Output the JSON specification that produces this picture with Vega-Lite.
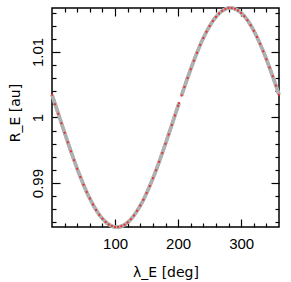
{
  "$schema": "https://vega.github.io/schema/vega-lite/v6.json",
  "autosize": {"type": "none"},
  "padding": {"left": 52, "top": 8, "right": 12, "bottom": 55},
  "width": 227,
  "height": 219,
  "background": "white",
  "config": {
    "view": {"stroke": "black", "strokeWidth": 1.5},
    "axis": {"domain": false, "grid": false, "ticks": true, "tickColor": "black", "tickWidth": 1.2, "labelFlush": false, "labelOverlap": false}
  },
  "data": {"values": [
    {"l":0,"r":1.003475,"s":1},{"l":5,"r":1.002033,"s":1},{"l":10,"r":1.000578,"s":1},{"l":15,"r":0.999120,"s":1},
    {"l":20,"r":0.997671,"s":1},{"l":25,"r":0.996242,"s":1},{"l":30,"r":0.994842,"s":1},{"l":35,"r":0.993486,"s":1},
    {"l":40,"r":0.992178,"s":1},{"l":45,"r":0.990930,"s":1},{"l":50,"r":0.989750,"s":1},{"l":55,"r":0.988650,"s":1},
    {"l":60,"r":0.987634,"s":1},{"l":65,"r":0.986715,"s":1},{"l":70,"r":0.985893,"s":1},{"l":75,"r":0.985177,"s":1},
    {"l":80,"r":0.984569,"s":1},{"l":85,"r":0.984075,"s":1},{"l":90,"r":0.983700,"s":1},{"l":95,"r":0.983445,"s":1},
    {"l":100,"r":0.983311,"s":1},{"l":105,"r":0.983300,"s":1},{"l":110,"r":0.983413,"s":1},{"l":115,"r":0.983647,"s":1},
    {"l":120,"r":0.984001,"s":1},{"l":125,"r":0.984473,"s":1},{"l":130,"r":0.985062,"s":1},{"l":135,"r":0.985760,"s":1},
    {"l":140,"r":0.986562,"s":1},{"l":145,"r":0.987467,"s":1},{"l":150,"r":0.988468,"s":1},{"l":155,"r":0.989551,"s":1},
    {"l":160,"r":0.990718,"s":1},{"l":165,"r":0.991953,"s":1},{"l":170,"r":0.993250,"s":1},{"l":175,"r":0.994600,"s":1},
    {"l":180,"r":0.995992,"s":1},{"l":185,"r":0.997418,"s":1},{"l":190,"r":0.998864,"s":1},{"l":195,"r":1.000320,"s":1},
    {"l":200,"r":1.001777,"s":1},{"l":201.5,"r":1.002210,"s":1},
    {"l":205.5,"r":1.003367,"s":2},{"l":210,"r":1.004645,"s":2},{"l":215,"r":1.006033,"s":2},{"l":220,"r":1.007377,"s":2},
    {"l":225,"r":1.008667,"s":2},{"l":230,"r":1.009892,"s":2},{"l":235,"r":1.011041,"s":2},{"l":240,"r":1.012106,"s":2},
    {"l":245,"r":1.013073,"s":2},{"l":250,"r":1.013940,"s":2},{"l":255,"r":1.014699,"s":2},{"l":260,"r":1.015345,"s":2},
    {"l":265,"r":1.015871,"s":2},{"l":270,"r":1.016271,"s":2},{"l":275,"r":1.016543,"s":2},{"l":280,"r":1.016686,"s":2},
    {"l":285,"r":1.016698,"s":2},{"l":290,"r":1.016578,"s":2},{"l":295,"r":1.016327,"s":2},{"l":300,"r":1.015949,"s":2},
    {"l":305,"r":1.015447,"s":2},{"l":310,"r":1.014821,"s":2},{"l":315,"r":1.014081,"s":2},{"l":320,"r":1.013234,"s":2},
    {"l":325,"r":1.012281,"s":2},{"l":330,"r":1.011231,"s":2},{"l":335,"r":1.010101,"s":2},{"l":340,"r":1.008888,"s":2},
    {"l":345,"r":1.007610,"s":2},{"l":350,"r":1.006276,"s":2},{"l":355,"r":1.004893,"s":2},{"l":360,"r":1.003475,"s":2}
  ]},
  "layer": [
    {
      "mark": {"type": "line", "color": "#b0b0b0", "strokeWidth": 3.5, "interpolate": "monotone"},
      "encoding": {
        "x": {"field": "l", "type": "quantitative",
          "scale": {"domain": [0, 360], "nice": false, "zero": false},
          "axis": {"orient": "bottom", "values": [20,40,60,80,120,140,160,180,220,240,260,280,320,340],
            "tickSize": -4, "labels": false, "title": null}},
        "y": {"field": "r", "type": "quantitative",
          "scale": {"domain": [0.9833, 1.0167], "nice": false, "zero": false},
          "axis": {"orient": "left", "values": [0.984,0.986,0.988,0.992,0.994,0.996,0.998,1.002,1.004,1.006,1.008,1.012,1.014,1.016],
            "tickSize": -4, "labels": false, "title": null}},
        "detail": {"field": "s"}
      }
    },
    {
      "mark": {"type": "line", "color": "#b0b0b0", "strokeWidth": 3.5, "interpolate": "monotone"},
      "encoding": {
        "x": {"field": "l", "type": "quantitative",
          "axis": {"orient": "bottom", "values": [100, 200, 300], "tickSize": -8,
            "labelExpr": "datum.label",
            "labelFont": "Liberation Sans", "labelFontSize": 15, "labelColor": "black",
            "labelBaseline": "alphabetic", "labelPadding": 29,
            "title": "λ_E [deg]", "titleFont": "DejaVu Sans", "titleFontSize": 14, "titleFontWeight": "normal",
            "titleColor": "black", "titleBaseline": "alphabetic", "titleY": 49}},
        "y": {"field": "r", "type": "quantitative",
          "axis": {"orient": "left", "values": [0.99, 1, 1.01], "tickSize": -8,
            "labelExpr": "abs(datum.value-0.99)<1e-6 ? '0.99' : abs(datum.value-1)<1e-6 ? '1' : '1.01'",
            "labelFont": "Liberation Sans", "labelFontSize": 15, "labelColor": "black",
            "labelAngle": -90, "labelAlign": "center", "labelBaseline": "alphabetic", "labelPadding": 18,
            "title": "R_E [au]", "titleFont": "DejaVu Sans", "titleFontSize": 14, "titleFontWeight": "normal",
            "titleColor": "black", "titleAngle": -90, "titleAlign": "center", "titleBaseline": "alphabetic",
            "titleX": -32.5, "titleY": 104.5}},
        "detail": {"field": "s"}
      }
    },
    {
      "mark": {"type": "circle", "color": "#e8322f", "size": 4, "opacity": 0.9},
      "encoding": {
        "x": {"field": "l", "type": "quantitative",
          "axis": {"orient": "top", "values": [20,40,60,80,120,140,160,180,220,240,260,280,320,340],
            "tickSize": -4, "labels": false, "title": null}},
        "y": {"field": "r", "type": "quantitative",
          "axis": {"orient": "right", "values": [0.984,0.986,0.988,0.992,0.994,0.996,0.998,1.002,1.004,1.006,1.008,1.012,1.014,1.016],
            "tickSize": -4, "labels": false, "title": null}}
      }
    },
    {
      "mark": {"type": "circle", "color": "#e8322f", "size": 4, "opacity": 0.9},
      "encoding": {
        "x": {"field": "l", "type": "quantitative",
          "axis": {"orient": "top", "values": [100, 200, 300], "tickSize": -8, "labels": false, "title": null}},
        "y": {"field": "r", "type": "quantitative",
          "axis": {"orient": "right", "values": [0.99, 1, 1.01], "tickSize": -8, "labels": false, "title": null}}
      }
    }
  ],
  "resolve": {"axis": {"x": "independent", "y": "independent"}}
}
